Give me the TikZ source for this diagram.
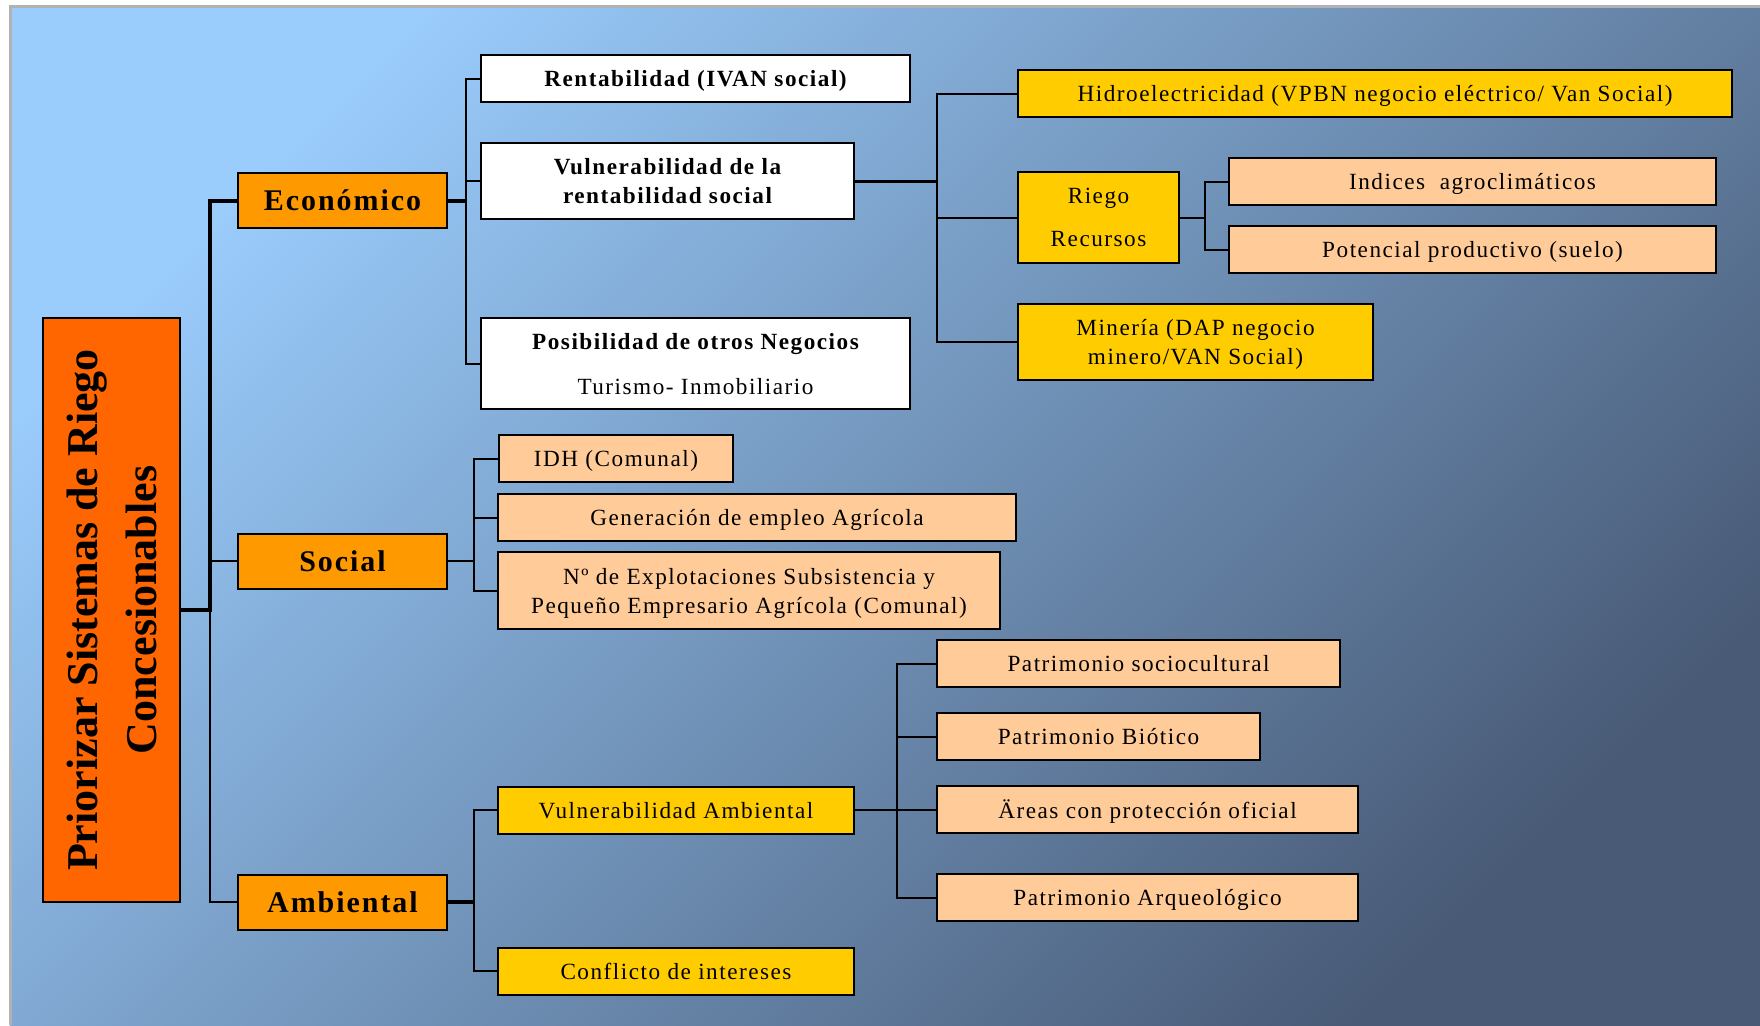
\documentclass[tikz,border=0pt]{standalone}
\usepackage{fontspec}
\setmainfont{Liberation Serif}
\newfontfamily\espaciada{Liberation Serif}[LetterSpace=6.5]

\definecolor{naranjaR}{HTML}{FF6600}
\definecolor{naranja}{HTML}{FF9900}
\definecolor{amarillo}{HTML}{FFCC00}
\definecolor{durazno}{HTML}{FFCC99}
\definecolor{fondoA}{HTML}{9ACCFC}
\definecolor{fondoB}{HTML}{7EA4CD}
\definecolor{fondoC}{HTML}{485A76}

\tikzset{
	caja/.style={draw=black, line width=1pt, inner sep=0pt, align=center, text depth=0pt, font=\espaciada\fontsize{11.6}{14.5}\selectfont},
	blanca/.style={caja, fill=white, font=\espaciada\bfseries\fontsize{11.6}{14.5}\selectfont},
	amarilla/.style={caja, fill=amarillo},
	clara/.style={caja, fill=durazno},
	criterio/.style={caja, fill=naranja, font=\espaciada\bfseries\fontsize{15}{18}\selectfont, minimum width=104.5pt, minimum height=27.5pt},
	titulo/.style={caja, fill=naranjaR, rotate=90, text depth=, font=\bfseries\fontsize{22}{29.5}\selectfont, minimum width=292pt, minimum height=68.5pt},
	linea/.style={line width=1pt},
	gruesa/.style={line width=2pt},
}

\begin{document}
\begin{tikzpicture}[x=0.5pt,y=-0.5pt]
	\useasboundingbox (0,0) rectangle (1760,1025);
	\fill[white] (0,0) rectangle (1760,1025);
	\shade[top color=fondoA, middle color=fondoB, bottom color=fondoC, shading angle=45] (10,6) rectangle (1760,1025);
	\draw[gray!60, line width=1.5pt] (10,1025) -- (10,6) -- (1760,6);

	\node[titulo] (tit) at (111.5,610) {Priorizar Sistemas de Riego\\Concesionables};

	\node[criterio] (eco) at (342.5,200.5) {Económico};
	\node[criterio] (soc) at (342.5,561) {Social};
	\node[criterio] (amb) at (342.5,902) {Ambiental};

	\node[blanca, minimum width=214.5pt, minimum height=23.5pt] (rent) at (695.5,78.5) {Rentabilidad (IVAN social)};
	\node[blanca, minimum width=186.5pt, minimum height=38pt] (vrent) at (667.5,181) {Vulnerabilidad de la\\rentabilidad social};
	\node[blanca, minimum width=214.5pt, minimum height=45.5pt] (posib) at (695.5,363.5) {Posibilidad de otros Negocios\\[8pt]{\mdseries Turismo- Inmobiliario}};

	\node[amarilla, minimum width=357pt, minimum height=23.5pt] (hidro) at (1375,93.5) {Hidroelectricidad (VPBN negocio eléctrico/ Van Social)};
	\node[amarilla, minimum width=80.5pt, minimum height=45.5pt] (riego) at (1098.5,217.5) {Riego\\[7pt]Recursos};
	\node[amarilla, minimum width=177.5pt, minimum height=38pt] (mineria) at (1195.5,342) {Minería (DAP negocio\\minero/VAN Social)};
	\node[clara, minimum width=243.5pt, minimum height=23.5pt] (indices) at (1472.5,181.5) {Indices\ \ agroclimáticos};
	\node[clara, minimum width=243.5pt, minimum height=23.5pt] (potencial) at (1472.5,249.5) {Potencial productivo (suelo)};

	\node[clara, minimum width=117pt, minimum height=23.5pt] (idh) at (616,458.5) {IDH (Comunal)};
	\node[clara, minimum width=259pt, minimum height=23.5pt] (empleo) at (757,517.5) {Generación de empleo Agrícola};
	\node[clara, minimum width=251pt, minimum height=38.5pt] (explot) at (749,590.5) {Nº de Explotaciones Subsistencia y\\Pequeño Empresario Agrícola (Comunal)};

	\node[amarilla, minimum width=178pt, minimum height=23.5pt] (vamb) at (676,810) {Vulnerabilidad Ambiental};
	\node[amarilla, minimum width=178pt, minimum height=23.5pt] (conflicto) at (676,971) {Conflicto de intereses};
	\node[clara, minimum width=201.5pt, minimum height=23.5pt] (psocio) at (1138.5,663.5) {Patrimonio sociocultural};
	\node[clara, minimum width=161.5pt, minimum height=23.5pt] (pbiotico) at (1098.5,736.5) {Patrimonio Biótico};
	\node[clara, minimum width=210.5pt, minimum height=23.5pt] (areas) at (1147.5,809.5) {Äreas con protección oficial};
	\node[clara, minimum width=210.5pt, minimum height=23.5pt] (parq) at (1147.5,897.5) {Patrimonio Arqueológico};

	\coordinate (raiz) at (210,610);
	\draw[gruesa] (tit.south) -- (raiz) |- (eco.west);
	\draw[linea] (raiz) |- (soc.west);
	\draw[linea] (raiz) |- (amb.west);

	\coordinate (busE) at (466,200.5);
	\draw[gruesa] (eco.east) -- (busE);
	\draw[linea] (busE) |- (rent.west);
	\draw[linea] (busE) |- (vrent.west);
	\draw[linea] (busE) |- (posib.west);

	\coordinate (busV) at (937,181);
	\draw[line width=1.5pt] (vrent.east) -- (busV);
	\draw[linea] (busV) |- (hidro.west);
	\draw[linea] (busV) |- (riego.west);
	\draw[linea] (busV) |- (mineria.west);

	\coordinate (busR) at (1205,217.5);
	\draw[linea] (riego.east) -- (busR);
	\draw[linea] (busR) |- (indices.west);
	\draw[linea] (busR) |- (potencial.west);

	\coordinate (busS) at (473.5,561);
	\draw[linea] (soc.east) -- (busS);
	\draw[linea] (busS) |- (idh.west);
	\draw[linea] (busS) |- (empleo.west);
	\draw[linea] (busS) |- (explot.west);

	\coordinate (busA) at (473.5,902);
	\draw[gruesa] (amb.east) -- (busA);
	\draw[linea] (busA) |- (vamb.west);
	\draw[linea] (busA) |- (conflicto.west);

	\coordinate (busP) at (897,810);
	\draw[linea] (vamb.east) -- (busP);
	\draw[linea] (busP) |- (psocio.west);
	\draw[linea] (busP) |- (pbiotico.west);
	\draw[linea] (busP) |- (areas.west);
	\draw[linea] (busP) |- (parq.west);
\end{tikzpicture}
\end{document}
